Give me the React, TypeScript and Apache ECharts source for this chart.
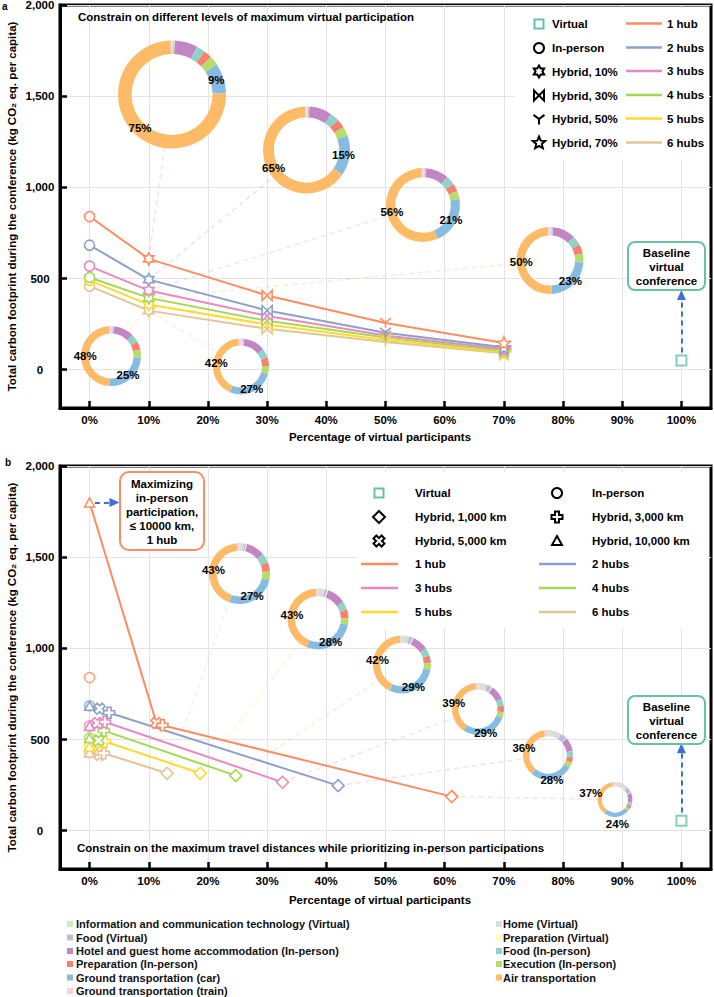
import React, { useEffect, useRef } from 'react';
import * as echarts from 'echarts';

const FONT = '"Liberation Sans", Arial, Helvetica, sans-serif';

// ---------- DATA ----------
const hubNames = ['1 hub', '2 hubs', '3 hubs', '4 hubs', '5 hubs', '6 hubs'];
const hubColors = ['#fc8d62', '#8da0cb', '#e78ac3', '#a6d854', '#ffd92f', '#e5c494'];
const virtualColor = '#66c2a5';
const arrowColor = '#3d6fd6';

const xTickValues = [0, 10, 20, 30, 40, 50, 60, 70, 80, 90, 100];
const yTickValues = [0, 500, 1000, 1500, 2000];

// Panel a: maximum virtual participation levels
const virtualLevelsA = [0, 10, 30, 50, 70];
const levelMarkersA = ['circle', 'hexagram', 'bowtie', 'tridown', 'star5'];
const footprintA = [
  [840, 608, 407, 256, 147],
  [683, 494, 325, 203, 123],
  [568, 434, 295, 187, 113],
  [506, 394, 268, 176, 104],
  [490, 357, 248, 163, 97],
  [458, 324, 224, 152, 90],
];
const virtualA = [100, 50];

// Panel b: maximum travel distance constraints
const inPersonB = [840, 685, 575, 508, 462, 429];
const km10000X = [0, 0, 0, 0, 0, 0];
const km10000Y = [1800, 685, 575, 508, 462, 429];
const km5000X = [11.3, 1.7, 1.3, 1.5, 1.7, 1.7];
const km5000Y = [590, 669, 590, 495, 480, 416];
const km3000X = [12.3, 3.3, 2.6, 2.4, 2.6, 2.4];
const km3000Y = [578, 647, 596, 549, 489, 425];
const km1000X = [61.2, 42, 32.6, 24.7, 18.7, 13.1];
const km1000Y = [187, 247, 266, 302, 315, 315];
const virtualB = [100, 55];

// Footprint composition (%)
const footprintCategories = [
  'Information and communication technology (Virtual)',
  'Home (Virtual)',
  'Food (Virtual)',
  'Preparation (Virtual)',
  'Hotel and guest home accommodation (In-person)',
  'Food (In-person)',
  'Preparation (In-person)',
  'Execution (In-person)',
  'Ground transportation (car)',
  'Air transportation',
  'Ground transportation (train)',
];
const categoryColors = ['#ccebc5', '#dcdcdc', '#bebada', '#ffffb3', '#c386c4', '#8dd3c7', '#fb8072', '#b3de69', '#86bbe2', '#fdbb67', '#fccde5'];
// panel a donuts: 1..6 hubs at 10% virtual
const donutSharesA = [
  [0.1, 0.3, 0.4, 0.1, 6.8, 2.6, 2.5, 2.8, 9, 75, 0.4],
  [0.2, 0.4, 0.4, 0.1, 8.5, 3.3, 3.3, 3.4, 15, 65, 0.4],
  [0.3, 0.5, 0.5, 0.1, 10, 4, 3.5, 3.5, 21, 56, 0.6],
  [0.3, 0.6, 0.6, 0.1, 11, 4.5, 4.5, 4.4, 23, 50, 1],
  [0.3, 0.6, 0.6, 0.1, 11, 4.5, 4.5, 4.4, 25, 48, 1],
  [0.4, 0.7, 0.7, 0.2, 12.5, 5.2, 5, 4.8, 27, 42, 1.5],
];
// panel b donuts: 1..6 hubs at 1,000 km
const donutSharesB = [
  [1.5, 11, 6, 0.5, 9, 3, 3, 2.5, 24, 37, 2.5],
  [1, 8, 4, 0.5, 9, 4, 3.5, 3.5, 28, 36, 2.5],
  [1, 5, 3, 0.5, 9, 4.5, 4, 3.5, 29, 39, 1.5],
  [0.5, 3.5, 2, 0.5, 9, 4.5, 4, 4, 29, 42, 1],
  [0.5, 3, 1.5, 0.5, 10, 4.5, 4.5, 3.5, 28, 43, 1],
  [0.5, 2, 1, 0.5, 10, 5, 5, 4.5, 27, 43, 1.5],
];

// ---------- LAYOUT ----------
const GRID_LEFT = 60;
const GRID_W = 651;
const X_MIN = -5;
const X_MAX = 105;
const panels = [
  { top: 5, height: 403, yMin: -210, yMax: 2000, nameGap: 29 },
  { top: 466, height: 403, yMin: -210, yMax: 2000, nameGap: 31 },
];
const donutLayoutA = [
  { cx: 172, cy: 94.5, r: 54 },
  { cx: 306.5, cy: 150, r: 43.5 },
  { cx: 423, cy: 205, r: 37 },
  { cx: 550, cy: 260.5, r: 33.5 },
  { cx: 111, cy: 356, r: 30 },
  { cx: 241, cy: 366.5, r: 28 },
];
const donutLayoutB = [
  { cx: 615, cy: 799.5, r: 17.5 },
  { cx: 548, cy: 755, r: 25 },
  { cx: 478, cy: 709, r: 26 },
  { cx: 402, cy: 664.5, r: 29 },
  { cx: 318, cy: 619, r: 30.5 },
  { cx: 239.5, cy: 573.5, r: 30.5 },
];

function toPx(p: number, x: number, y: number): number[] {
  const g = panels[p];
  return [GRID_LEFT + ((x - X_MIN) / (X_MAX - X_MIN)) * GRID_W, g.top + ((g.yMax - y) / (g.yMax - g.yMin)) * g.height];
}

function markerPath(kind: string, s: number, cx: number, cy: number): string {
  const h = s / 2;
  const f = (n: number) => n.toFixed(2);
  const poly = (p: number[][]) => 'M' + p.map((q) => f(q[0]) + ' ' + f(q[1])).join(' L') + ' Z';
  const star = (n: number, R: number, r: number) => {
    const a: number[][] = [];
    for (let i = 0; i < 2 * n; i++) {
      const t = -Math.PI / 2 + (i * Math.PI) / n;
      const rr = i % 2 === 0 ? R : r;
      a.push([cx + rr * Math.cos(t), cy + rr * Math.sin(t)]);
    }
    return a;
  };
  const plusPts = (w: number) => [[-w, -h], [w, -h], [w, -w], [h, -w], [h, w], [w, w], [w, h], [-w, h], [-w, w], [-h, w], [-h, -w], [-w, -w]];
  switch (kind) {
    case 'hexagram':
      return poly(star(6, h, h / Math.sqrt(3)));
    case 'star5':
      return poly(star(5, h, h * 0.45));
    case 'bowtie':
      return `M${f(cx - h)} ${f(cy - h)} L${f(cx)} ${f(cy)} L${f(cx - h)} ${f(cy + h)} Z M${f(cx + h)} ${f(cy - h)} L${f(cx)} ${f(cy)} L${f(cx + h)} ${f(cy + h)} Z`;
    case 'tridown':
      return `M${f(cx)} ${f(cy)} L${f(cx - h)} ${f(cy - h * 0.75)} M${f(cx)} ${f(cy)} L${f(cx + h)} ${f(cy - h * 0.75)} M${f(cx)} ${f(cy)} L${f(cx)} ${f(cy + h)}`;
    case 'plus':
      return poly(plusPts(h * 0.36).map((p) => [cx + p[0], cy + p[1]]));
    case 'xcross': {
      const k = Math.SQRT1_2;
      const pts = plusPts(h * 0.36).map((p) => [(p[0] - p[1]) * k, (p[0] + p[1]) * k]);
      const m = Math.max(...pts.map((p) => Math.abs(p[0])));
      return poly(pts.map((p) => [cx + (p[0] * h) / m, cy + (p[1] * h) / m]));
    }
    case 'triangle':
      return poly([[cx, cy - h], [cx + h, cy + h * 0.8], [cx - h, cy + h * 0.8]]);
    case 'diamond':
      return poly([[cx, cy - h], [cx + h, cy], [cx, cy + h], [cx - h, cy]]);
  }
  return '';
}

const PATH_KINDS = ['hexagram', 'star5', 'bowtie', 'tridown', 'plus', 'xcross', 'triangle', 'diamond'];
const symbolSizes: Record<string, number> = { circle: 10, hexagram: 12, bowtie: 10, tridown: 11, star5: 13, plus: 11, xcross: 11, triangle: 10, diamond: 12 };
function sym(kind: string): string {
  if (kind === 'circle') return 'circle';
  return 'path://' + markerPath(kind, 10, 5, 5);
}

let registered = false;
function registerShapes() {
  if (registered) return;
  registered = true;
  PATH_KINDS.forEach((k) => {
    echarts.graphic.registerShape('mk_' + k, (echarts.graphic as any).extendPath(markerPath(k, symbolSizes[k], 0, 0), {}));
  });
}

function txt(text: string, x: number, y: number, extra: any = {}, z = 10) {
  return {
    type: 'text', x, y, z, silent: true,
    style: { text, fill: '#000', fontFamily: FONT, fontSize: 11.5, fontWeight: 'bold', align: 'left', verticalAlign: 'middle', ...extra },
  };
}

function legendMarker(kind: string, x: number, y: number, color = '#000') {
  if (kind === 'rect') {
    return { type: 'rect', z: 10, silent: true, shape: { x: x - 4.5, y: y - 4.5, width: 9, height: 9 }, style: { fill: '#fff', stroke: color, lineWidth: 2 } };
  }
  if (kind === 'circle') {
    return { type: 'circle', z: 10, silent: true, shape: { cx: x, cy: y, r: 5 }, style: { fill: '#fff', stroke: color, lineWidth: 2 } };
  }
  return { type: 'mk_' + kind, z: 10, silent: true, x, y, style: { fill: '#fff', stroke: color, lineWidth: 2 } };
}

function legendLine(x1: number, x2: number, y: number, color: string) {
  return { type: 'line', z: 10, silent: true, shape: { x1, y1: y, x2, y2: y }, style: { stroke: color, lineWidth: 2.5 } };
}

function donutLabels(shares: number[], d: { cx: number; cy: number; r: number }) {
  const total = shares.reduce((a, b) => a + b, 0);
  const out: any[] = [];
  [8, 9].forEach((ci) => {
    let start = 0;
    for (let i = 0; i < ci; i++) start += shares[i];
    const mid = ((start + shares[ci] / 2) / total) * Math.PI * 2;
    const dist = Math.max(d.r * 0.86, 25);
    out.push(txt(Math.round(shares[ci]) + '%', d.cx + Math.sin(mid) * dist, d.cy - Math.cos(mid) * dist, { align: 'center' }, 12));
  });
  return out;
}

function connector(p: number[], d: { cx: number; cy: number; r: number }, color: string) {
  const dx = p[0] - d.cx;
  const dy = p[1] - d.cy;
  const L = Math.hypot(dx, dy);
  return {
    type: 'line', z: 1, silent: true,
    shape: { x1: p[0], y1: p[1], x2: d.cx + (dx / L) * d.r, y2: d.cy + (dy / L) * d.r },
    style: { stroke: color, lineWidth: 1.5, lineDash: [5, 4], opacity: 0.25 },
  };
}

function pieSeries(shares: number[], d: { cx: number; cy: number; r: number }) {
  return {
    type: 'pie', silent: true, z: 3,
    center: [d.cx, d.cy], radius: [d.r * 0.75, d.r],
    startAngle: 90, clockwise: true, avoidLabelOverlap: false,
    label: { show: false }, labelLine: { show: false },
    emphasis: { disabled: true },
    itemStyle: { borderWidth: 0 },
    data: shares.map((v, i) => ({ name: footprintCategories[i], value: v, itemStyle: { color: categoryColors[i] } })),
  };
}

function xAxis(gridIndex: number) {
  return {
    type: 'value', gridIndex, min: X_MIN, max: X_MAX,
    axisLine: { show: true, onZero: false, lineStyle: { color: '#000', width: 3 } },
    axisTick: { show: true, inside: true, length: 7, customValues: xTickValues, lineStyle: { color: '#000', width: 2.5 } },
    axisLabel: { customValues: xTickValues, formatter: (v: number) => v + '%', color: '#000', fontSize: 11.5, fontWeight: 'bold', fontFamily: FONT, margin: 6 },
    splitLine: { show: true, lineStyle: { color: '#e3e3e3', width: 1 } },
  };
}
function yAxis(gridIndex: number) {
  const g = panels[gridIndex];
  return {
    type: 'value', gridIndex, min: g.yMin, max: g.yMax,
    axisLine: { show: true, onZero: false, lineStyle: { color: '#000', width: 3 } },
    axisTick: { show: true, inside: true, length: 7, customValues: yTickValues, lineStyle: { color: '#000', width: 2.5 } },
    axisLabel: { customValues: yTickValues, formatter: (v: number) => v.toLocaleString('en-US'), align: 'center', color: '#000', fontSize: 11.5, fontWeight: 'bold', fontFamily: FONT, margin: 20 },
    splitLine: { show: true, lineStyle: { color: '#e3e3e3', width: 1 } },
  };
}

function buildOption() {
  const series: any[] = [];
  // panel a lines (draw 6 hubs first)
  for (let h = 5; h >= 0; h--) {
    series.push({
      type: 'line', name: hubNames[h], xAxisIndex: 0, yAxisIndex: 0, z: 5, silent: true,
      symbolKeepAspect: true,
      lineStyle: { color: hubColors[h], width: 2 },
      itemStyle: { color: '#fff', borderColor: hubColors[h], borderWidth: 1.6 },
      data: virtualLevelsA.map((x, i) => ({ value: [x, footprintA[h][i]], symbol: sym(levelMarkersA[i]), symbolSize: symbolSizes[levelMarkersA[i]] })),
    });
  }
  series.push({
    type: 'scatter', name: 'Virtual', xAxisIndex: 0, yAxisIndex: 0, z: 5, silent: true,
    symbol: 'rect', symbolSize: 10,
    itemStyle: { color: '#fff', borderColor: virtualColor, borderWidth: 2 },
    data: [virtualA],
    markLine: {
      silent: true, symbol: ['none', 'triangle'], symbolSize: [9, 10], label: { show: false }, emphasis: { disabled: true },
      lineStyle: { color: arrowColor, type: [5, 4], width: 2 },
      data: [[{ coord: [100, 95] }, { coord: [100, 410] }]],
    },
  });
  // panel b in-person circles
  series.push({
    type: 'scatter', name: 'In-person', xAxisIndex: 1, yAxisIndex: 1, z: 4, silent: true,
    symbol: 'circle', symbolSize: symbolSizes.circle,
    data: inPersonB.map((v, h) => ({ value: [0, v], itemStyle: { color: '#fff', borderColor: hubColors[h], borderWidth: 1.6 } })),
  });
  const kinds = ['triangle', 'xcross', 'plus', 'diamond'];
  for (let h = 5; h >= 0; h--) {
    const xs = [km10000X[h], km5000X[h], km3000X[h], km1000X[h]];
    const ys = [km10000Y[h], km5000Y[h], km3000Y[h], km1000Y[h]];
    series.push({
      type: 'line', name: hubNames[h] + ' (b)', xAxisIndex: 1, yAxisIndex: 1, z: 5, silent: true,
      symbolKeepAspect: true,
      lineStyle: { color: hubColors[h], width: 2 },
      itemStyle: { color: '#fff', borderColor: hubColors[h], borderWidth: 1.6 },
      data: xs.map((x, i) => ({ value: [x, ys[i]], symbol: sym(kinds[i]), symbolSize: symbolSizes[kinds[i]] })),
    });
  }
  series.push({
    type: 'scatter', name: 'Virtual (b)', xAxisIndex: 1, yAxisIndex: 1, z: 5, silent: true,
    symbol: 'rect', symbolSize: 10,
    itemStyle: { color: '#fff', borderColor: virtualColor, borderWidth: 2 },
    data: [virtualB],
    markLine: {
      silent: true, symbol: ['none', 'triangle'], symbolSize: [9, 10], label: { show: false }, emphasis: { disabled: true },
      lineStyle: { color: arrowColor, type: [5, 4], width: 2 },
      data: [
        [{ coord: [100, 100] }, { coord: [100, 452] }],
        [{ coord: [0.9, 1800] }, { coord: [4.2, 1800] }],
      ],
    },
  });
  // donuts
  donutSharesA.forEach((s, h) => series.push(pieSeries(s, donutLayoutA[h])));
  donutSharesB.forEach((s, h) => series.push(pieSeries(s, donutLayoutB[h])));

  // graphics
  const g: any[] = [];
  g.push(txt('a', 2, 6, { fontSize: 10 }));
  g.push(txt('b', 5, 462, { fontSize: 10 }));
  g.push(txt('Constrain on different levels of maximum virtual participation', 78, 17));
  g.push(txt('Constrain on the maximum travel distances while prioritizing in-person participations', 77, 848));
  const yName = 'Total carbon footprint during the conference (kg CO₂ eq. per capita)';
  [0, 1].forEach((p) => {
    const gp = panels[p];
    g.push({ ...txt(yName, 12, gp.top + gp.height / 2, { align: 'center' }), rotation: Math.PI / 2 });
    g.push(txt('Percentage of virtual participants', 380, gp.top + gp.height + gp.nameGap, { align: 'center' }));
  });

  // connectors
  for (let h = 0; h < 6; h++) {
    g.push(connector(toPx(0, virtualLevelsA[1], footprintA[h][1]), donutLayoutA[h], hubColors[h]));
    g.push(connector(toPx(1, km1000X[h], km1000Y[h]), donutLayoutB[h], hubColors[h]));
  }
  // donut labels
  donutSharesA.forEach((s, h) => g.push(...donutLabels(s, donutLayoutA[h])));
  donutSharesB.forEach((s, h) => g.push(...donutLabels(s, donutLayoutB[h])));

  // panel a legend
  g.push({ type: 'rect', z: 1, silent: true, shape: { x: 515, y: 7, width: 194, height: 153 }, style: { fill: '#fff' } });
  const rowsA = [24, 48, 71.5, 95.5, 119, 143];
  const markA = [['rect', 'Virtual'], ['circle', 'In-person'], ['hexagram', 'Hybrid, 10%'], ['bowtie', 'Hybrid, 30%'], ['tridown', 'Hybrid, 50%'], ['star5', 'Hybrid, 70%']];
  markA.forEach((m, i) => {
    g.push(legendMarker(m[0], 539, rowsA[i], m[0] === 'rect' ? virtualColor : '#000'));
    g.push(txt(m[1], 552, rowsA[i]));
    g.push(legendLine(626, 662, rowsA[i] - 0.5, hubColors[i]));
    g.push(txt(hubNames[i], 667, rowsA[i] - 0.5));
  });

  // panel b legend
  g.push({ type: 'rect', z: 1, silent: true, shape: { x: 356, y: 472, width: 353, height: 156 }, style: { fill: '#fff' } });
  const rowsB = [493, 517, 541, 564, 588, 612];
  const markB = [['rect', 'Virtual'], ['circle', 'In-person'], ['diamond', 'Hybrid, 1,000 km'], ['plus', 'Hybrid, 3,000 km'], ['xcross', 'Hybrid, 5,000 km'], ['triangle', 'Hybrid, 10,000 km']];
  markB.forEach((m, i) => {
    const row = rowsB[Math.floor(i / 2)];
    const col = i % 2;
    g.push(legendMarker(m[0], col === 0 ? 379 : 557, row, m[0] === 'rect' ? virtualColor : '#000'));
    g.push(txt(m[1], col === 0 ? 415 : 592, row));
  });
  hubNames.forEach((n, i) => {
    const row = rowsB[3 + Math.floor(i / 2)];
    const col = i % 2;
    g.push(legendLine(col === 0 ? 361 : 539, col === 0 ? 398 : 576, row, hubColors[i]));
    g.push(txt(n, col === 0 ? 415 : 592, row));
  });

  // annotation boxes
  g.push({ type: 'rect', z: 8, silent: true, shape: { x: 628, y: 242, width: 77, height: 48, r: 7 }, style: { fill: '#fff', stroke: virtualColor, lineWidth: 2 } });
  g.push(txt('Baseline\nvirtual\nconference', 666.5, 267, { align: 'center', lineHeight: 14 }, 11));
  g.push({ type: 'rect', z: 8, silent: true, shape: { x: 628, y: 696, width: 77, height: 48, r: 7 }, style: { fill: '#fff', stroke: virtualColor, lineWidth: 2 } });
  g.push(txt('Baseline\nvirtual\nconference', 666.5, 720.5, { align: 'center', lineHeight: 14 }, 11));
  g.push({ type: 'rect', z: 8, silent: true, shape: { x: 120, y: 472, width: 84, height: 78, r: 9 }, style: { fill: '#fff', stroke: hubColors[0], lineWidth: 2 } });
  g.push(txt('Maximizing\nin-person\nparticipation,\n≤ 10000 km,\n1 hub', 162, 511.5, { align: 'center', lineHeight: 14 }, 11));

  // bottom category legend
  const catRows = [924, 937.5, 951, 964, 977.5, 991];
  const col1 = [0, 2, 4, 6, 8, 10];
  const col2 = [1, 3, 5, 7, 9];
  col1.forEach((ci, r) => {
    g.push({ type: 'rect', z: 10, silent: true, shape: { x: 67, y: catRows[r] - 3, width: 6, height: 6 }, style: { fill: categoryColors[ci] } });
    g.push(txt(footprintCategories[ci], 76, catRows[r], { fontSize: 11, fill: '#111' }));
  });
  col2.forEach((ci, r) => {
    g.push({ type: 'rect', z: 10, silent: true, shape: { x: 496, y: catRows[r] - 3, width: 6, height: 6 }, style: { fill: categoryColors[ci] } });
    g.push(txt(footprintCategories[ci], 503, catRows[r], { fontSize: 11, fill: '#111' }));
  });

  return {
    animation: false,
    textStyle: { fontFamily: FONT },
    grid: panels.map((p) => ({
      left: GRID_LEFT, top: p.top, width: GRID_W, height: p.height,
      show: true, borderColor: '#000', borderWidth: 3, backgroundColor: 'transparent',
      containLabel: false, outerBoundsMode: 'none',
    })),
    xAxis: [xAxis(0), xAxis(1)],
    yAxis: [yAxis(0), yAxis(1)],
    series,
    graphic: { elements: g },
  };
}

export default function App() {
  const ref = useRef<HTMLDivElement>(null);
  useEffect(() => {
    if (!ref.current) return;
    registerShapes();
    const chart = echarts.init(ref.current, undefined, { renderer: 'svg' });
    chart.setOption(buildOption() as any);
    return () => chart.dispose();
  }, []);
  return <div ref={ref} style={{ position: 'fixed', left: 0, top: 0, width: 714, height: 997, background: '#fff' }} />;
}
